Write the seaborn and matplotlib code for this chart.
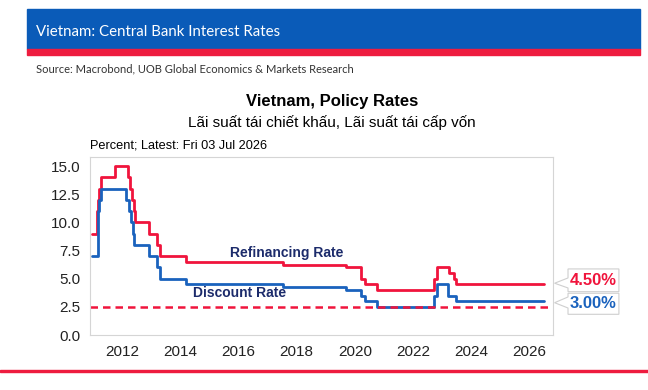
import matplotlib
matplotlib.use("Agg")
import matplotlib.pyplot as plt
import matplotlib.dates as mdates
from matplotlib.patches import Rectangle, Polygon
import seaborn as sns
import pandas as pd

# policy rate changes (date of change, new level); last point = latest obs
ref_dates = ["2010-12-15", "2011-02-17", "2011-03-07", "2011-03-20", "2011-04-14",
             "2011-10-01", "2012-03-13", "2012-04-11", "2012-05-08", "2012-05-28",
             "2012-06-11", "2012-12-10", "2013-03-10", "2013-04-26", "2014-03-18",
             "2017-07-10", "2019-09-16", "2020-03-17", "2020-05-13", "2020-10-01",
             "2022-09-23", "2022-10-25", "2023-04-03", "2023-05-25", "2023-06-19",
             "2026-07-03"]
ref_vals = [9, 11, 12, 13, 14,
            15, 14, 13, 12, 11,
            10, 9, 8, 7, 6.5,
            6.25, 6.0, 5.0, 4.5, 4.0,
            5.0, 6.0, 5.5, 5.0, 4.5,
            4.5]

disc_dates = ["2010-12-15", "2011-03-01", "2011-03-20", "2011-04-10", "2012-02-25",
              "2012-03-25", "2012-04-20", "2012-05-15", "2012-06-05", "2012-12-10",
              "2013-03-10", "2013-04-26", "2014-03-18", "2017-07-10", "2019-09-16",
              "2020-03-17", "2020-05-13", "2020-10-01", "2022-09-23", "2022-10-25",
              "2023-03-15", "2023-06-19", "2026-07-03"]
disc_vals = [7, 11, 12, 13, 12,
             11, 10, 9, 8, 7,
             6, 5, 4.5, 4.25, 4.0,
             3.5, 3.0, 2.5, 3.5, 4.5,
             3.5, 3.0, 3.0]

threshold = 2.5
y_ticks = [0, 2.5, 5, 7.5, 10, 12.5, 15]

RED = "#f0143c"
BLUE = "#1a62bd"
NAVY = "#1c2b6b"
HEAD_BLUE = "#0a5bb8"

ref = pd.DataFrame({"date": pd.to_datetime(ref_dates), "rate": ref_vals})
disc = pd.DataFrame({"date": pd.to_datetime(disc_dates), "rate": disc_vals})

sns.set_style("white")
plt.rcParams["font.family"] = ["Liberation Sans", "DejaVu Sans"]

fig = plt.figure(figsize=(6.48, 3.9), dpi=100)
ax = fig.add_axes([0.139, 0.141, 0.714, 0.456])

sns.lineplot(data=ref, x="date", y="rate", ax=ax, color=RED, lw=2,
             drawstyle="steps-post")
sns.lineplot(data=disc, x="date", y="rate", ax=ax, color=BLUE, lw=2,
             drawstyle="steps-post")
ax.axhline(threshold, color=RED, lw=1.8, ls=(0, (3, 2)))

ax.set_xlim(pd.Timestamp("2010-11-27"), pd.Timestamp("2026-10-20"))
ax.set_ylim(0, 15.8)
ax.set_yticks(y_ticks)
ax.yaxis.set_major_formatter(plt.FormatStrFormatter("%.1f"))
ax.xaxis.set_major_locator(mdates.YearLocator(2))
ax.xaxis.set_major_formatter(mdates.DateFormatter("%Y"))
ax.set_xlabel("")
ax.set_ylabel("")
ax.tick_params(axis="both", labelsize=11, colors="#222222", length=4,
               width=0.8, direction="out", pad=3)
ax.tick_params(axis="both", color="#bbbbbb")
for s in ax.spines.values():
    s.set_color("#d5d5d5")
    s.set_linewidth(0.8)

ax.text(pd.Timestamp("2017-09-01"), 7.3, "Refinancing Rate", color=NAVY,
        fontsize=10, fontweight="bold", ha="center", va="center")
ax.text(pd.Timestamp("2016-01-15"), 3.75, "Discount Rate", color=NAVY,
        fontsize=10, fontweight="bold", ha="center", va="center")

# latest-value callouts to the right of the plot
ytr = ax.get_yaxis_transform()


def callout(y0, y1, tip, b0, b1, txt, col):
    pts = [(1.004, tip), (1.033, b1), (1.033, y1), (1.143, y1),
           (1.143, y0), (1.033, y0), (1.033, b0)]
    ax.add_patch(Polygon(pts, closed=True, transform=ytr, fc="white",
                         ec="#cfcfcf", lw=0.8, clip_on=False, zorder=5))
    ax.text(1.088, (y0 + y1) / 2, txt, transform=ytr, color=col, fontsize=12,
            fontweight="bold", ha="center", va="center", zorder=6, clip_on=False)


callout(3.85, 5.87, 4.60, 4.18, 5.07, "%.2f%%" % ref_vals[-1], RED)
callout(1.84, 3.71, 2.87, 2.40, 3.38, "%.2f%%" % disc_vals[-1], BLUE)

# header
fig.patches.append(Rectangle((0.041, 0.874), 0.947, 0.102, transform=fig.transFigure,
                             color=HEAD_BLUE, zorder=0))
fig.patches.append(Rectangle((0.041, 0.859), 0.947, 0.015, transform=fig.transFigure,
                             color="#ee1c3f", zorder=0))
fig.patches.append(Rectangle((0.0, 0.047), 1.0, 0.004, transform=fig.transFigure,
                             color="#ee1c3f", zorder=0))
fig.text(0.056, 0.918, "Vietnam: Central Bank Interest Rates", color="white",
         fontsize=10.8, family=["Lato", "DejaVu Sans"], va="center", ha="left")
fig.text(0.056, 0.823, "Source: Macrobond, UOB Global Economics & Markets Research",
         color="#333333", fontsize=8, family=["Lato", "DejaVu Sans"], va="center")

fig.text(0.512, 0.739, "Vietnam, Policy Rates", fontsize=12, fontweight="bold",
         ha="center", va="center", color="black")
fig.text(0.512, 0.686, "Lãi suất tái chiết khấu, Lãi suất tái cấp vốn", fontsize=11,
         ha="center", va="center", color="black")
fig.text(0.139, 0.626, "Percent; Latest: Fri 03 Jul 2026", fontsize=9.2,
         ha="left", va="center", color="black")

fig.savefig("out.png", dpi=100)
